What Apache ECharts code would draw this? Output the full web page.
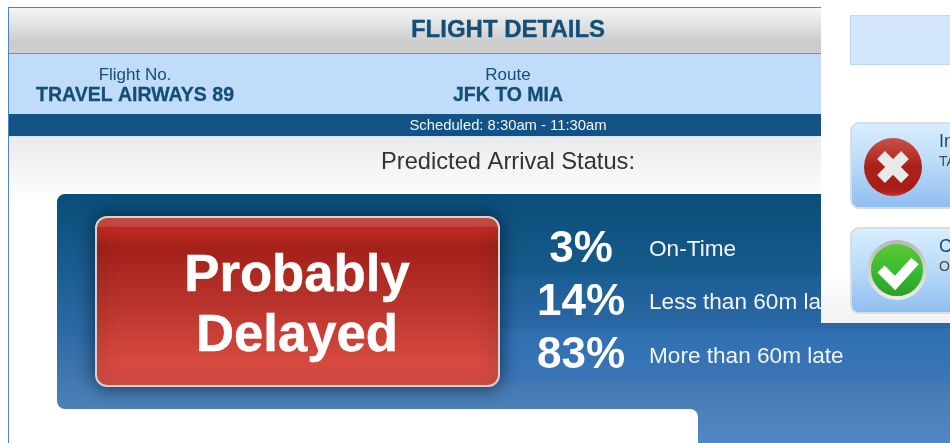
<!DOCTYPE html>
<html>
<head>
<meta charset="utf-8">
<style>
  html, body { margin: 0; padding: 0; background: #fff; }
  #main { width: 950px; height: 443px; }
</style>
<script src="https://cdn.jsdelivr.net/npm/echarts@6/dist/echarts.min.js"></script>
</head>
<body>
<div id="main"></div>
<script>
var statusLabels = ["On-Time", "Less than 60m late", "More than 60m late"];
var statusPercents = [3, 14, 83];
var verdictLines = ["Probably", "Delayed"];
var headerTitle = "FLIGHT DETAILS";
var flightLabels = ["Flight No.", "Route"];
var flightValues = ["TRAVEL AIRWAYS 89", "JFK TO MIA"];
var scheduleText = "Scheduled: 8:30am - 11:30am";
var predictedText = "Predicted Arrival Status:";
var sideTitles = ["In", "C"];
var sideSubtitles = ["TA", "O"];

var FONT = '"Liberation Sans", Arial, sans-serif';
var NAVY = "#134e78";

function vGrad(y1, y2, stops) {
  return {
    type: "linear", x: 0, y: y1, x2: 0, y2: y2, global: true,
    colorStops: stops.map(function (s) { return { offset: s[0], color: s[1] }; })
  };
}
function rect(x, y, w, h, fill, z, extra) {
  var el = { type: "rect", z: z, silent: true,
    shape: { x: x, y: y, width: w, height: h, r: (extra && extra.r) || 0 },
    style: { fill: fill } };
  if (extra && extra.style) Object.assign(el.style, extra.style);
  return el;
}
// heavy adds a thin same-colour outline, the reference text renders a bit fatter
function text(str, x, y, size, color, z, weight, align, heavy) {
  var el = { type: "text", z: z, silent: true, x: x, y: y,
    style: { text: str, fill: color, font: (weight || "normal") + " " + size + "px " + FONT,
      textAlign: align || "center", textVerticalAlign: "middle" } };
  if (heavy) { el.style.stroke = color; el.style.lineWidth = heavy; }
  return el;
}

var panelGrad = vGrad(194, 443, [[0, "#0a4d78"], [0.25, "#175a8c"], [0.55, "#2c69a4"], [0.8, "#487cb3"], [1, "#5287c6"]]);
var g = [];

// page frame and header
g.push(rect(8, 7, 814, 436, "#4a86c5", 1));
g.push(rect(9, 8, 813, 435, "#fff", 1));
g.push(rect(9, 8, 813, 45, vGrad(8, 53, [[0, "#f6f6f6"], [0.8, "#cacaca"], [1, "#cfcfcf"]]), 1));
g.push(rect(9, 53, 813, 1, "#8a8a8a", 1));
g.push(rect(9, 54, 813, 60, "#c0dcfa", 1));
g.push(rect(9, 114, 813, 22, "#135285", 1));
g.push(rect(9, 136, 813, 1, "#d5e5f5", 1));
g.push(rect(9, 137, 813, 66, vGrad(137, 203, [[0, "#ebebeb"], [1, "#ffffff"]]), 1));

g.push(text(headerTitle, 508, 30, 24, NAVY, 3, "bold", null, 0.3));
[135, 508].forEach(function (cx, i) {
  g.push(text(flightLabels[i], cx, 75, 17, NAVY, 3));
  g.push(text(flightValues[i], cx, 96, 19.5, NAVY, 3, "bold", null, 0.3));
});
g.push(text(scheduleText, 508, 126, 14.8, "#f2f6fb", 3));
g.push(text(predictedText, 508, 162, 23.7, "#333", 3));

// blue panel, with the white notch below it
g.push(rect(57, 194, 893, 215, panelGrad, 1, { r: 8 }));
g.push(rect(690, 300, 260, 143, panelGrad, 1));
g.push(rect(600, 409, 98, 34, "#fff", 1, { r: [0, 8, 0, 0] }));

// verdict button
g.push(rect(96, 217, 403, 169, vGrad(217, 386, [[0, "#d24e45"], [0.055, "#cc4a42"], [0.06, "#c42d25"], [0.18, "#a3201a"], [0.5, "#b8332b"], [0.85, "#d5493f"], [1, "#d94e44"]]), 5, {
  r: 11,
  style: { stroke: "#d9d3cf", lineWidth: 2, shadowBlur: 18, shadowColor: "rgba(0,20,40,0.7)" }
}));
g.push(text(verdictLines[0], 297, 276, 52.7, "#fff", 6, "bold", null, 0.5));
g.push(text(verdictLines[1], 297, 336, 52.7, "#fff", 6, "bold", null, 0.5));

// white side column, drawn over the panel
g.push(rect(821, 0, 129, 323, vGrad(0, 323, [[0, "#fff"], [0.85, "#fff"], [1, "#f2f2f2"]]), 7));
g.push(rect(850.5, 15.5, 100, 49, "#d2e5fc", 7, { style: { stroke: "#bdd6f5", lineWidth: 1 } }));

[[123, 208], [228, 313]].forEach(function (c, i) {
  g.push(rect(851, c[0], 110, c[1] - c[0], vGrad(c[0], c[1], [[0, "#d9eefe"], [0.45, "#bcdcf8"], [1, "#90bdf0"]]), 7, {
    r: 8, style: { stroke: "#d8dde2", lineWidth: 2 }
  }));
  g.push(text(sideTitles[i], 939, c[0] + 19, 18, NAVY, 9, "normal", "left"));
  g.push(text(sideSubtitles[i], 939, c[0] + 39, 14, "#4a4a3a", 9, "normal", "left"));
});

// red icon
g.push({ type: "circle", z: 8, silent: true, shape: { cx: 893, cy: 167, r: 29 },
  style: { fill: vGrad(138, 196, [[0, "#c9504a"], [0.5, "#ab2018"], [0.9, "#a81d15"], [1, "#d03328"]]) } });
g.push({ type: "polyline", z: 9, silent: true, shape: { points: [[881, 155], [905, 179]] }, style: { stroke: "#e9e9e9", lineWidth: 11, fill: null } });
g.push({ type: "polyline", z: 9, silent: true, shape: { points: [[905, 155], [881, 179]] }, style: { stroke: "#e9e9e9", lineWidth: 11, fill: null } });

// green icon
g.push({ type: "circle", z: 8, silent: true, shape: { cx: 897, cy: 270, r: 28 },
  style: { fill: vGrad(243, 297, [[0, "#5fc935"], [0.55, "#35bb30"], [1, "#2c9e28"]]),
    stroke: vGrad(240, 300, [[0, "#b8b8b8"], [1, "#ececec"]]), lineWidth: 4 } });
g.push({ type: "polyline", z: 9, silent: true, shape: { points: [[881, 269], [895, 283], [915, 261]] },
  style: { stroke: "#fff", lineWidth: 10, fill: null, lineJoin: "miter" } });

// percent rows come from the arrays, placed by the category axis
var rowColors = [["#0f5280", "#175b8c"], ["#1d5e94", "#2a68a6"], ["#2f6fb0", "#3b76b8"]];

function renderRow(params, api) {
  var idx = api.value(1);
  var pt = api.coord([0, idx]);
  var h = api.size([0, 1])[1];
  var top = pt[1] - h / 2;
  return {
    type: "group",
    children: [
      { type: "rect", shape: { x: pt[0], y: top, width: 450, height: h },
        style: { fill: vGrad(top, top + h, [[0, rowColors[idx][0]], [1, rowColors[idx][1]]]) } },
      { type: "text", x: pt[0] + 81, y: pt[1] + 1,
        style: { text: api.value(0) + "%", fill: "#fff", font: "bold 44px " + FONT, textAlign: "center", textVerticalAlign: "middle" } },
      { type: "text", x: pt[0] + 149, y: pt[1] + 1,
        style: { text: statusLabels[idx], fill: "#f2f6fb", font: "22.6px " + FONT, textAlign: "left", textVerticalAlign: "middle" } }
    ]
  };
}

var chart = echarts.init(document.getElementById("main"), null, { renderer: "canvas" });
chart.setOption({
  animation: false,
  backgroundColor: "#fff",
  tooltip: { show: false },
  grid: { left: 500, right: 0, top: 222, height: 160 },
  xAxis: { type: "value", min: 0, max: 100, show: false },
  yAxis: { type: "category", inverse: true, show: false, data: statusLabels },
  graphic: { elements: g },
  series: [{
    type: "custom",
    z: 2,
    silent: true,
    renderItem: renderRow,
    encode: { x: 0, y: 1 },
    data: statusPercents.map(function (p, i) { return [p, i]; })
  }]
});
</script>
</body>
</html>
